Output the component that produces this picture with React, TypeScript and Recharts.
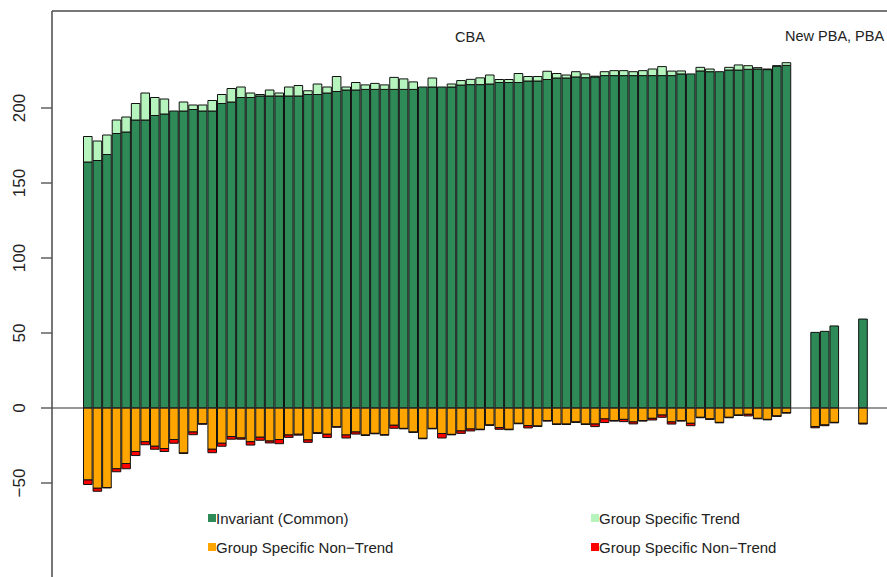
import { BarChart, Bar, XAxis, YAxis, ReferenceLine } from "recharts";

// CBA group, 74 bars, read left to right
const cbaInvariant = [
	164, 165, 169, 183, 184, 192, 192, 195, 196, 198, 198, 199, 198, 198, 203, 204, 207, 207, 208, 208,
	208, 208, 208, 209, 209, 210, 211, 212, 212, 212.4, 212.4, 212.4, 212.4, 212.4, 212.4, 214, 214, 214, 214, 215.3,
	215.6, 215.6, 216, 217, 217, 217, 218, 218, 219, 220, 220, 220.7, 220.2, 220.7, 221.6, 221.6, 221.6, 221.6, 221.6, 221.6,
	221.6, 221.6, 222.7, 222.7, 224.7, 224.2, 224.2, 225.3, 225.3, 225.8, 226, 225.6, 227.8, 228.4,
];
const cbaTrend = [
	17, 13, 13, 9, 10, 11, 18, 12, 10, 0, 6, 3, 4, 7, 6, 9, 7, 3, 1, 4,
	2, 6, 7, 2.5, 7, 4, 10, 2, 5, 3, 4, 3, 8, 7, 5, 0, 6, 0, 2, 3,
	3.5, 4.5, 6, 2, 2, 6, 3, 3, 5.5, 3, 2, 3.5, 2.5, 0.5, 2.6, 3.3, 3.3, 2.6, 3.3, 4.4,
	6, 3, 2, 0, 2.4, 1.8, 0, 1.8, 3.4, 2.4, 0.9, 0.4, 0.4, 1.8,
];
const cbaNonTrend = [
	-48, -53.5, -53, -40.5, -37, -29, -22.5, -25.5, -27, -21, -30, -16, -10.5, -27.5, -23.5, -19, -20, -22.5, -19.5, -22,
	-21, -18, -17.5, -21.3, -16.5, -17.5, -12.5, -18, -16, -18, -16.9, -17.8, -11.5, -13.6, -16, -20.2, -13.6, -17, -17.6, -15.3,
	-14, -14.2, -11.3, -13.1, -14.2, -10.2, -11.8, -12, -8.4, -10.7, -10.7, -9.3, -10.7, -10.7, -7.3, -8.4, -7.6, -9.3, -8.4, -6.9,
	-4.7, -9.3, -8.4, -10.2, -6.2, -7.3, -9.6, -6.2, -4.7, -4.2, -6.9, -7.6, -5.3, -3.1,
];
const cbaNonTrendRed = [
	-3, -2, -0.3, -2, -3.5, -2.7, -2, -2, -2, -2.5, -0.3, -1.8, -0.3, -2.3, -2, -1.8, -0.8, -2.2, -2, -1.3,
	-2.8, -1.6, -0.6, -1.6, -0.5, -2.2, -0.3, -2, -1.4, -0.3, -0.3, -0.3, -2, -0.3, -0.3, -0.3, -0.3, -3, -0.3, -1.6,
	-1.3, -0.3, -0.3, -1.1, -0.3, -0.3, -1.5, -0.3, -0.3, -0.3, -0.3, -0.3, -0.3, -1.7, -2.4, -0.3, -1.5, -1.3, -0.3, -1.1,
	-1.5, -1.4, -0.3, -1.6, -0.3, -0.3, -0.3, -0.3, -0.3, -1.1, -0.3, -0.3, -0.3, -0.3,
];

// New PBA group (3 bars) and the lone bar after it
const pbaInvariant = [50.4, 51.1, 54.7];
const pbaNonTrend = [-12.4, -11.3, -9.6];
const pbaNonTrendRed = [-0.8, -0.5, -0.3];
const lastInvariant = [59.3];
const lastNonTrend = [-10.2];
const lastNonTrendRed = [-0.5];

const yTicks = [-50, 0, 50, 100, 150, 200];

const groups = [
	{ inv: cbaInvariant, trend: cbaTrend, non: cbaNonTrend, red: cbaNonTrendRed },
	{ inv: pbaInvariant, trend: [0, 0, 0], non: pbaNonTrend, red: pbaNonTrendRed },
	{ inv: lastInvariant, trend: [0], non: lastNonTrend, red: lastNonTrendRed },
];

type Row = { id: string; inv: number | null; trend: number | null; non: number | null; red: number | null };
const rows: Row[] = [];
groups.forEach((g, gi) => {
	if (gi > 0) {
		for (let k = 0; k < 2; k++) rows.push({ id: `gap${gi}-${k}`, inv: null, trend: null, non: null, red: null });
	}
	g.inv.forEach((v, i) => {
		rows.push({ id: `g${gi}-${i}`, inv: v, trend: g.trend[i] || null, non: g.non[i], red: g.red[i] });
	});
});

const SLOT = 9.57;
const CHART_W = 950;
const CHART_H = 620;
const AXIS_W = 52;
const PAD_L = 31.5;
const PAD_R = CHART_W - AXIS_W - PAD_L - rows.length * SLOT;
const Y_MAX = 264.667;
const Y_MIN = -135.333;

const FONT = "'Liberation Sans', Arial, Helvetica, sans-serif";
const INK = "#222";

const COLORS = {
	inv: "#2e8b57",
	trend: "#b5f5bd",
	non: "#ffa500",
	red: "#ff0000",
};

function YTick({ y, payload }: any) {
	const label = String(payload.value).replace("-", "\u2212");
	return (
		<text
			x={20}
			y={y}
			transform={`rotate(-90, 20, ${y})`}
			textAnchor="middle"
			dominantBaseline="central"
			fontSize={17}
			fontFamily={FONT}
			fill={INK}
		>
			{label}
		</text>
	);
}

const legendItems = [
	{ label: "Invariant (Common)", color: COLORS.inv, left: 208, top: 518 },
	{ label: "Group Specific Trend", color: COLORS.trend, left: 591, top: 518 },
	{ label: "Group Specific Non\u2212Trend", color: COLORS.non, left: 208, top: 547 },
	{ label: "Group Specific Non\u2212Trend", color: COLORS.red, left: 591, top: 547 },
];

export default function App() {
	return (
		<div
			style={{
				position: "fixed",
				left: 0,
				top: 0,
				width: 887,
				height: 577,
				overflow: "hidden",
				background: "#fff",
				fontFamily: FONT,
			}}
		>
			<BarChart
				width={CHART_W}
				height={CHART_H}
				data={rows}
				stackOffset="sign"
				barCategoryGap={0}
				margin={{ top: 11, right: 0, bottom: 9, left: 0 }}
			>
				<XAxis dataKey="id" hide padding={{ left: PAD_L, right: PAD_R }} />
				<YAxis
					width={AXIS_W}
					domain={[Y_MIN, Y_MAX]}
					allowDataOverflow
					ticks={yTicks}
					tickSize={11}
					tick={<YTick />}
					axisLine={{ stroke: "#555", strokeWidth: 1.6 }}
					tickLine={{ stroke: "#555", strokeWidth: 1.4 }}
				/>
				<Bar dataKey="inv" stackId="s" fill={COLORS.inv} stroke="#111" strokeWidth={1} barSize={SLOT} isAnimationActive={false} />
				<Bar dataKey="trend" stackId="s" fill={COLORS.trend} stroke="#111" strokeWidth={1} barSize={SLOT} isAnimationActive={false} />
				<Bar dataKey="non" stackId="s" fill={COLORS.non} stroke="#111" strokeWidth={1} barSize={SLOT} isAnimationActive={false} />
				<Bar dataKey="red" stackId="s" fill={COLORS.red} stroke="#111" strokeWidth={1} barSize={SLOT} isAnimationActive={false} />
				<ReferenceLine y={0} stroke="#333" strokeWidth={1.2} />
				<ReferenceLine y={Y_MAX} stroke="#777" strokeWidth={2} />
			</BarChart>

			<div style={{ position: "absolute", left: 470, top: 36.7 - 7, transform: "translateX(-50%)", fontSize: 14.5, lineHeight: "14.5px", color: INK, whiteSpace: "nowrap" }}>
				CBA
			</div>
			<div style={{ position: "absolute", left: 785, top: 36 - 7, fontSize: 14.5, lineHeight: "14.5px", color: INK, whiteSpace: "nowrap" }}>
				New PBA, PBA
			</div>

			{legendItems.map((it, i) => (
				<div key={i} style={{ position: "absolute", left: it.left, top: it.top - 7.3, display: "flex", alignItems: "center", whiteSpace: "nowrap" }}>
					<span style={{ display: "inline-block", width: 7.5, height: 7.5, background: it.color, marginRight: 0.5 }} />
					<span style={{ fontSize: 15, lineHeight: "15px", color: INK }}>{it.label}</span>
				</div>
			))}
		</div>
	);
}
